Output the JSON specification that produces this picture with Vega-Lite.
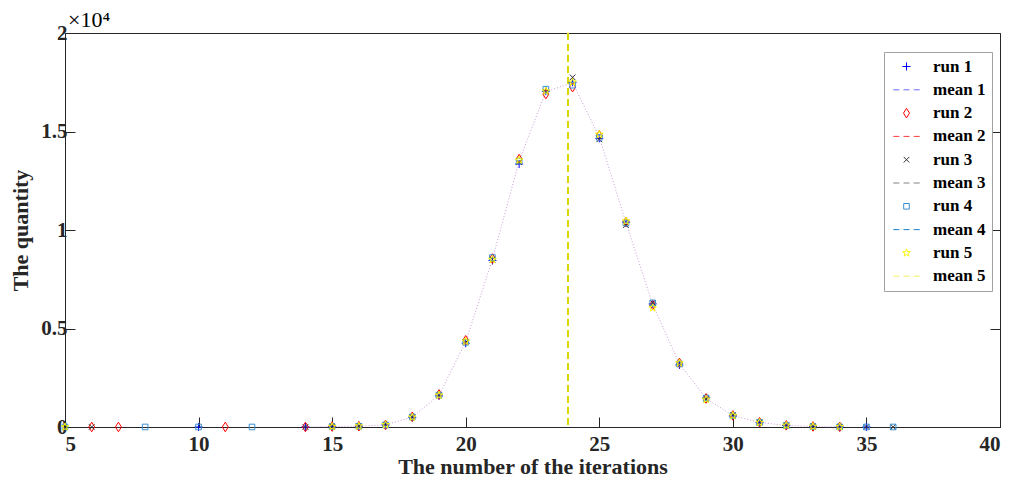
{
  "$schema": "https://vega.github.io/schema/vega-lite/v6.json",
  "width": 935,
  "height": 394,
  "autosize": {"type": "none"},
  "padding": {"left": 65, "top": 33, "right": 19, "bottom": 57},
  "background": "white",
  "title": {"text": "×10⁴", "anchor": "start", "frame": "group", "font": "Liberation Serif", "fontSize": 22, "fontWeight": "normal", "color": "black", "offset": -10, "dx": 3},
  "config": {
    "view": {"stroke": "#262626", "strokeWidth": 1},
    "axis": {
      "labelFont": "Liberation Serif", "labelFontSize": 21, "labelFontWeight": "bold", "labelColor": "#262626",
      "titleFont": "Liberation Serif", "titleFontSize": 22, "titleFontWeight": "bold", "titleColor": "#262626",
      "gridColor": "#dedede", "gridWidth": 1, "domainColor": "#262626", "tickColor": "#262626", "tickSize": -10
    }
  },
  "datasets": {
    "runs": [
      {"x": 5, "y": 1, "s": "run 4"}, {"x": 5, "y": 1, "s": "run 5"},
      {"x": 6, "y": 1, "s": "run 2"}, {"x": 6, "y": 1, "s": "run 3"},
      {"x": 7, "y": 1, "s": "run 2"}, {"x": 8, "y": 2, "s": "run 4"},
      {"x": 10, "y": 1, "s": "run 1"}, {"x": 10, "y": 1, "s": "run 4"},
      {"x": 11, "y": 1, "s": "run 2"}, {"x": 12, "y": 1, "s": "run 4"},
      {"x": 14, "y": 3, "s": "run 1"}, {"x": 14, "y": 2, "s": "run 2"}, {"x": 14, "y": 4, "s": "run 3"},
      {"x": 35, "y": 2, "s": "run 1"}, {"x": 35, "y": 3, "s": "run 3"}, {"x": 35, "y": 2, "s": "run 4"},
      {"x": 36, "y": 1, "s": "run 3"}, {"x": 36, "y": 1, "s": "run 4"},
      {"x": 15, "y": 20, "s": "run 1"}, {"x": 16, "y": 45, "s": "run 1"}, {"x": 17, "y": 110, "s": "run 1"}, {"x": 18, "y": 490, "s": "run 1"}, {"x": 19, "y": 1580, "s": "run 1"}, {"x": 20, "y": 4250, "s": "run 1"}, {"x": 21, "y": 8450, "s": "run 1"}, {"x": 22, "y": 13350, "s": "run 1"}, {"x": 23, "y": 17050, "s": "run 1"}, {"x": 24, "y": 17500, "s": "run 1"}, {"x": 25, "y": 14650, "s": "run 1"}, {"x": 26, "y": 10400, "s": "run 1"}, {"x": 27, "y": 6250, "s": "run 1"}, {"x": 28, "y": 3150, "s": "run 1"}, {"x": 29, "y": 1480, "s": "run 1"}, {"x": 30, "y": 560, "s": "run 1"}, {"x": 31, "y": 220, "s": "run 1"}, {"x": 32, "y": 80, "s": "run 1"}, {"x": 33, "y": 25, "s": "run 1"}, {"x": 34, "y": 8, "s": "run 1"},
      {"x": 15, "y": 25, "s": "run 2"}, {"x": 16, "y": 40, "s": "run 2"}, {"x": 17, "y": 105, "s": "run 2"}, {"x": 18, "y": 520, "s": "run 2"}, {"x": 19, "y": 1650, "s": "run 2"}, {"x": 20, "y": 4400, "s": "run 2"}, {"x": 21, "y": 8550, "s": "run 2"}, {"x": 22, "y": 13600, "s": "run 2"}, {"x": 23, "y": 16900, "s": "run 2"}, {"x": 24, "y": 17250, "s": "run 2"}, {"x": 25, "y": 14800, "s": "run 2"}, {"x": 26, "y": 10400, "s": "run 2"}, {"x": 27, "y": 6200, "s": "run 2"}, {"x": 28, "y": 3250, "s": "run 2"}, {"x": 29, "y": 1450, "s": "run 2"}, {"x": 30, "y": 590, "s": "run 2"}, {"x": 31, "y": 240, "s": "run 2"}, {"x": 32, "y": 85, "s": "run 2"}, {"x": 33, "y": 30, "s": "run 2"}, {"x": 34, "y": 10, "s": "run 2"},
      {"x": 15, "y": 18, "s": "run 3"}, {"x": 16, "y": 42, "s": "run 3"}, {"x": 17, "y": 115, "s": "run 3"}, {"x": 18, "y": 500, "s": "run 3"}, {"x": 19, "y": 1600, "s": "run 3"}, {"x": 20, "y": 4300, "s": "run 3"}, {"x": 21, "y": 8500, "s": "run 3"}, {"x": 22, "y": 13450, "s": "run 3"}, {"x": 23, "y": 17000, "s": "run 3"}, {"x": 24, "y": 17750, "s": "run 3"}, {"x": 25, "y": 14600, "s": "run 3"}, {"x": 26, "y": 10250, "s": "run 3"}, {"x": 27, "y": 6300, "s": "run 3"}, {"x": 28, "y": 3200, "s": "run 3"}, {"x": 29, "y": 1420, "s": "run 3"}, {"x": 30, "y": 600, "s": "run 3"}, {"x": 31, "y": 230, "s": "run 3"}, {"x": 32, "y": 75, "s": "run 3"}, {"x": 33, "y": 28, "s": "run 3"}, {"x": 34, "y": 9, "s": "run 3"},
      {"x": 15, "y": 22, "s": "run 4"}, {"x": 16, "y": 38, "s": "run 4"}, {"x": 17, "y": 100, "s": "run 4"}, {"x": 18, "y": 510, "s": "run 4"}, {"x": 19, "y": 1620, "s": "run 4"}, {"x": 20, "y": 4300, "s": "run 4"}, {"x": 21, "y": 8600, "s": "run 4"}, {"x": 22, "y": 13500, "s": "run 4"}, {"x": 23, "y": 17150, "s": "run 4"}, {"x": 24, "y": 17350, "s": "run 4"}, {"x": 25, "y": 14700, "s": "run 4"}, {"x": 26, "y": 10350, "s": "run 4"}, {"x": 27, "y": 6300, "s": "run 4"}, {"x": 28, "y": 3200, "s": "run 4"}, {"x": 29, "y": 1470, "s": "run 4"}, {"x": 30, "y": 570, "s": "run 4"}, {"x": 31, "y": 235, "s": "run 4"}, {"x": 32, "y": 78, "s": "run 4"}, {"x": 33, "y": 22, "s": "run 4"}, {"x": 34, "y": 7, "s": "run 4"},
      {"x": 15, "y": 20, "s": "run 5"}, {"x": 16, "y": 44, "s": "run 5"}, {"x": 17, "y": 112, "s": "run 5"}, {"x": 18, "y": 495, "s": "run 5"}, {"x": 19, "y": 1610, "s": "run 5"}, {"x": 20, "y": 4350, "s": "run 5"}, {"x": 21, "y": 8500, "s": "run 5"}, {"x": 22, "y": 13550, "s": "run 5"}, {"x": 23, "y": 17050, "s": "run 5"}, {"x": 24, "y": 17500, "s": "run 5"}, {"x": 25, "y": 14850, "s": "run 5"}, {"x": 26, "y": 10450, "s": "run 5"}, {"x": 27, "y": 6050, "s": "run 5"}, {"x": 28, "y": 3250, "s": "run 5"}, {"x": 29, "y": 1400, "s": "run 5"}, {"x": 30, "y": 580, "s": "run 5"}, {"x": 31, "y": 225, "s": "run 5"}, {"x": 32, "y": 82, "s": "run 5"}, {"x": 33, "y": 26, "s": "run 5"}, {"x": 34, "y": 11, "s": "run 5"}
    ],
    "curve": [
      {"x": 14, "y": 3}, {"x": 15, "y": 21}, {"x": 16, "y": 42}, {"x": 17, "y": 108}, {"x": 18, "y": 503}, {"x": 19, "y": 1612}, {"x": 20, "y": 4320}, {"x": 21, "y": 8520}, {"x": 22, "y": 13490}, {"x": 23, "y": 17030}, {"x": 24, "y": 17470}, {"x": 25, "y": 14720}, {"x": 26, "y": 10370}, {"x": 27, "y": 6220}, {"x": 28, "y": 3210}, {"x": 29, "y": 1444}, {"x": 30, "y": 580}, {"x": 31, "y": 230}, {"x": 32, "y": 80}, {"x": 33, "y": 26}, {"x": 34, "y": 9}
    ],
    "means": [
      {"x": 23.829, "s": "mean 1"}, {"x": 23.829, "s": "mean 2"}, {"x": 23.829, "s": "mean 3"}, {"x": 23.829, "s": "mean 4"}, {"x": 23.829, "s": "mean 5"}
    ]
  },
  "resolve": {"axis": {"x": "independent", "y": "independent"}},
  "layer": [
    {
      "data": {"name": "curve"},
      "mark": {"type": "line", "color": "#c99ad8", "strokeWidth": 1, "strokeDash": [1, 2]},
      "encoding": {
        "x": {"field": "x", "type": "quantitative", "scale": {"domain": [5, 40], "nice": false, "zero": false}, "axis": null},
        "y": {"field": "y", "type": "quantitative", "scale": {"domain": [0, 20000], "nice": false},
              "axis": {"orient": "right", "values": [0, 5000, 10000, 15000, 20000], "labels": false, "title": null, "grid": false, "domain": false}}
      }
    },
    {
      "data": {"name": "means"},
      "mark": {"type": "rule", "strokeWidth": 2, "strokeDash": [7, 4]},
      "encoding": {
        "x": {"field": "x", "type": "quantitative", "axis": null},
        "stroke": {"field": "s", "type": "nominal", "legend": null,
                  "scale": {"domain": ["mean 1", "mean 2", "mean 3", "mean 4", "mean 5"],
                            "range": ["#6b6bff", "#ff3a3a", "#808080", "#1a80cc", "#d8d800"]}}
      }
    },
    {
      "data": {"name": "runs"},
      "mark": {"type": "point", "filled": false, "size": 64, "strokeWidth": 1, "opacity": 1},
      "encoding": {
        "x": {"field": "x", "type": "quantitative",
              "axis": {"orient": "bottom", "values": [5, 10, 15, 20, 25, 30, 35, 40], "title": "The number of the iterations", "labelPadding": 16, "titlePadding": 2}},
        "y": {"field": "y", "type": "quantitative",
              "axis": {"orient": "left", "values": [0, 5000, 10000, 15000, 20000], "labelExpr": "datum.value/10000 + ''", "title": "The quantity", "labelPadding": 8, "titlePadding": 8}},
        "color": {"field": "s", "type": "nominal",
                  "scale": {"domain": ["run 1", "mean 1", "run 2", "mean 2", "run 3", "mean 3", "run 4", "mean 4", "run 5", "mean 5"],
                            "range": ["#0000ff", "#6b6bff", "#ff0000", "#ff3a3a", "#333333", "#808080", "#3b8fd0", "#1a80cc", "#f5f500", "#f0f060"]},
                  "legend": {"title": null, "orient": "none", "legendX": 819, "legendY": 19,
                             "strokeColor": "#a0a0a0", "fillColor": "white", "padding": 6,
                             "labelFont": "Liberation Serif", "labelFontSize": 17, "labelFontWeight": "bold", "labelColor": "black",
                             "symbolSize": 64, "symbolStrokeWidth": 1, "symbolOffset": 8, "labelOffset": 18, "rowPadding": 5.3}},
        "shape": {"field": "s", "type": "nominal",
                  "scale": {"domain": ["run 1", "mean 1", "run 2", "mean 2", "run 3", "mean 3", "run 4", "mean 4", "run 5", "mean 5"],
                            "range": ["M-1,0L1,0M0,-1L0,1", "M-3.3,0L-1.8,0M-0.75,0L0.75,0M1.8,0L3.3,0", "M0,-1.2L0.75,0L0,1.2L-0.75,0Z", "M-3.3,0L-1.8,0M-0.75,0L0.75,0M1.8,0L3.3,0", "M-0.7,-0.7L0.7,0.7M-0.7,0.7L0.7,-0.7", "M-3.3,0L-1.8,0M-0.75,0L0.75,0M1.8,0L3.3,0", "M-0.7,-0.7L0.7,-0.7L0.7,0.7L-0.7,0.7Z", "M-3.3,0L-1.8,0M-0.75,0L0.75,0M1.8,0L3.3,0", "M0,-1L0.235,-0.324L0.951,-0.309L0.38,0.124L0.588,0.809L0,0.4L-0.588,0.809L-0.38,0.124L-0.951,-0.309L-0.235,-0.324Z", "M-3.3,0L-1.8,0M-0.75,0L0.75,0M1.8,0L3.3,0"]}}
      }
    }
  ]
}
